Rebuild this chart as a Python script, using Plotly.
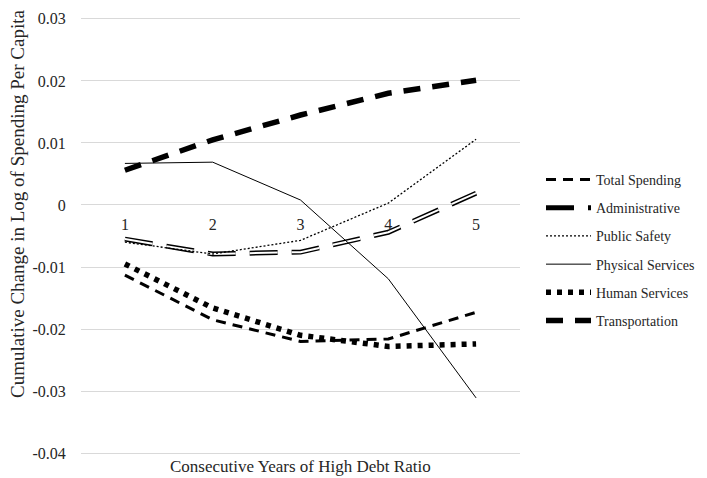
import plotly.graph_objects as go

years = ["1", "2", "3", "4", "5"]
total_spending = [-0.0113, -0.0185, -0.0220, -0.0216, -0.0173]
administrative = [-0.0055, -0.0079, -0.0076, -0.0044, 0.0019]
public_safety = [-0.0060, -0.0079, -0.0057, 0.0003, 0.0106]
physical_services = [0.0067, 0.0069, 0.0008, -0.0119, -0.0311]
human_services = [-0.0095, -0.0166, -0.0210, -0.0228, -0.0224]
transportation = [0.0056, 0.0105, 0.0145, 0.0180, 0.0201]

y_tick_vals = [0.03, 0.02, 0.01, 0, -0.01, -0.02, -0.03, -0.04]
y_tick_text = ["0.03", "0.02", "0.01", "0", "-0.01", "-0.02", "-0.03", "-0.04"]

FONT = "Liberation Serif, Times New Roman, serif"
TXT = "#262626"

# plot area: 0.03 at y=19px, -0.04 at y=453px; range padded slightly so edge gridlines show
PAD = 0.0003
TOP, BOT = 19 - 1.86, 25 - 1.86

fig = go.Figure()

fig.add_trace(go.Scatter(x=years, y=total_spending, mode="lines", name="Total Spending",
                         legendgroup="g1",
                         line=dict(color="black", width=3, dash="10px,7px")))
fig.add_trace(go.Scatter(x=years, y=administrative, mode="lines", name="Administrative",
                         legendgroup="g2",
                         line=dict(color="black", width=5, dash="28px,14px")))
fig.add_trace(go.Scatter(x=years, y=administrative, mode="lines", name="Administrative",
                         legendgroup="g2", showlegend=False, hoverinfo="skip",
                         line=dict(color="white", width=2, dash="28px,14px")))
fig.add_trace(go.Scatter(x=years, y=public_safety, mode="lines", name="Public Safety",
                         legendgroup="g3",
                         line=dict(color="black", width=1.3, dash="2px,2px")))
fig.add_trace(go.Scatter(x=years, y=physical_services, mode="lines", name="Physical Services",
                         legendgroup="g4",
                         line=dict(color="black", width=1)))
fig.add_trace(go.Scatter(x=years, y=human_services, mode="lines", name="Human Services",
                         legendgroup="g5",
                         line=dict(color="black", width=5.5, dash="5px,6px")))
fig.add_trace(go.Scatter(x=years, y=transportation, mode="lines", name="Transportation",
                         legendgroup="g6",
                         line=dict(color="black", width=5.5, dash="17px,12px")))

H = 478 - TOP - BOT
def ypix_to_paper(py):
    return (478 - BOT - py) / H

fig.update_layout(
    width=707, height=478,
    margin=dict(l=81, r=187, t=TOP, b=BOT, autoexpand=False),
    paper_bgcolor="white", plot_bgcolor="white",
    font=dict(family=FONT, size=16, color=TXT),
    showlegend=True,
    legend=dict(x=(541 - 81) / 439, xanchor="left", y=ypix_to_paper(164), yanchor="top",
                font=dict(family=FONT, size=14, color=TXT),
                traceorder="grouped", tracegroupgap=7,
                itemwidth=45, bgcolor="rgba(0,0,0,0)"),
    xaxis=dict(type="category", range=[-0.5, 4.5], anchor="free",
               position=ypix_to_paper(205),
               showgrid=False, showline=False, zeroline=False,
               ticks="outside", ticklen=5, tickcolor="rgba(0,0,0,0)",
               tickfont=dict(family=FONT, size=16, color=TXT)),
    yaxis=dict(range=[-0.04 - PAD, 0.03 + PAD], tickvals=y_tick_vals, ticktext=y_tick_text,
               showgrid=True, gridcolor="#d9d9d9", gridwidth=1, zeroline=False,
               showline=False, ticks="outside", ticklen=11, tickcolor="rgba(0,0,0,0)",
               tickfont=dict(family=FONT, size=16, color=TXT)),
)

fig.add_annotation(text="Cumulative Change in Log of Spending Per Capita", xref="paper", yref="paper",
                   x=(18 - 81) / 439, y=ypix_to_paper(204), xanchor="center", yanchor="middle",
                   textangle=-90, showarrow=False,
                   font=dict(family=FONT, size=19, color=TXT))

fig.add_annotation(text="Consecutive Years of High Debt Ratio", xref="paper", yref="paper",
                   x=(300 - 81) / 439, y=ypix_to_paper(466), xanchor="center", yanchor="middle",
                   showarrow=False,
                   font=dict(family=FONT, size=17, color=TXT))

fig.write_html("out.html", config={"displayModeBar": False},
               post_script="document.body.style.margin='0px';")
